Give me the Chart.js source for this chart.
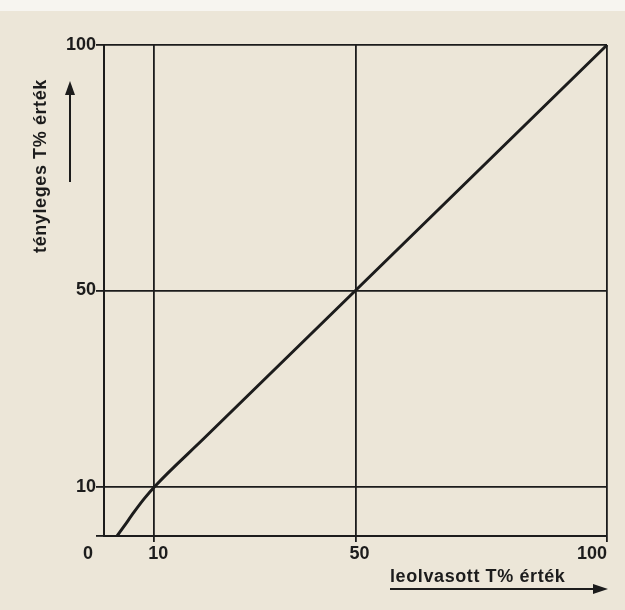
<!DOCTYPE html>
<html>
<head>
<meta charset="utf-8">
<script src="https://cdn.jsdelivr.net/npm/chart.js@4.4.1/dist/chart.umd.min.js"></script>
<style>
  html, body { margin: 0; padding: 0; background: #ece6d8; }
  #wrap { width: 625px; height: 610px; }
</style>
</head>
<body>
<div id="wrap"><canvas id="chart" width="625" height="610"></canvas></div>
<script>
// read-off value (x) vs true value (y), both in T%
var readValues = [2.6, 4, 6, 8, 10, 20, 50, 100];
var trueValues = [0, 2, 4.9, 7.6, 10, 20, 50, 100];

var xTicks = [0, 10, 50, 100];
var yTicks = [0, 10, 50, 100];
var xTitle = 'leolvasott T% érték';
var yTitle = 'tényleges T% érték';

var ink = '#1c1c1c';
var fontFamily = "'Liberation Sans', Arial, sans-serif";

var points = readValues.map(function(v, i) {
    return { x: v, y: trueValues[i] };
});

function arrowHead(ctx, x, y, dir) {
    // dir: 'up' or 'right'
    ctx.beginPath();
    if (dir === 'up') {
        ctx.moveTo(x, y);
        ctx.lineTo(x - 5, y + 14);
        ctx.lineTo(x + 5, y + 14);
    } else {
        ctx.moveTo(x, y);
        ctx.lineTo(x - 15, y - 5);
        ctx.lineTo(x - 15, y + 5);
    }
    ctx.closePath();
    ctx.fill();
}

var paperPlugin = {
    id: 'paper',
    beforeDraw: function(chart) {
        var ctx = chart.ctx;
        ctx.save();
        ctx.fillStyle = '#ece6d8';
        ctx.fillRect(0, 0, chart.width, chart.height);
        ctx.fillStyle = '#f7f5f0';
        ctx.fillRect(0, 0, chart.width, 11);
        ctx.restore();
    }
};

var labelsPlugin = {
    id: 'labels',
    afterDraw: function(chart) {
        var ctx = chart.ctx;
        var xs = chart.scales.x;
        var area = chart.chartArea;
        ctx.save();
        ctx.fillStyle = ink;
        ctx.strokeStyle = ink;
        ctx.font = 'bold 18px ' + fontFamily;
        ctx.textBaseline = 'middle';

        // x tick labels
        xTicks.forEach(function(v) {
            var px = xs.getPixelForValue(v);
            if (v === 0) {
                ctx.textAlign = 'center';
                ctx.fillText(String(v), px - 16, area.bottom + 18);
            } else if (v === 100) {
                ctx.textAlign = 'right';
                ctx.fillText(String(v), px, area.bottom + 18);
            } else {
                ctx.textAlign = 'center';
                ctx.fillText(String(v), px + 4, area.bottom + 18);
            }
        });

        // x title with arrow
        ctx.font = 'bold 18px ' + fontFamily;
        ctx.letterSpacing = '0.6px';
        ctx.textAlign = 'left';
        ctx.fillText(xTitle, 390, 577);
        ctx.lineWidth = 2;
        ctx.beginPath();
        ctx.moveTo(390, 589);
        ctx.lineTo(596, 589);
        ctx.stroke();
        arrowHead(ctx, 608, 589, 'right');

        // y title with arrow
        ctx.save();
        ctx.translate(41, 166);
        ctx.rotate(-Math.PI / 2);
        ctx.textAlign = 'center';
        ctx.fillText(yTitle, 0, 0);
        ctx.restore();
        ctx.beginPath();
        ctx.moveTo(70, 182);
        ctx.lineTo(70, 92);
        ctx.stroke();
        arrowHead(ctx, 70, 81, 'up');

        ctx.restore();
    }
};

new Chart(document.getElementById('chart'), {
    type: 'scatter',
    data: {
        datasets: [{
            data: points,
            showLine: true,
            borderColor: ink,
            borderWidth: 3,
            pointRadius: 0,
            cubicInterpolationMode: 'monotone',
            clip: false
        }]
    },
    options: {
        responsive: false,
        animation: false,
        layout: { padding: { top: 45, right: 18, left: 0, bottom: 0 } },
        plugins: {
            legend: { display: false },
            tooltip: { enabled: false }
        },
        scales: {
            x: {
                type: 'linear',
                min: 0,
                max: 100,
                afterBuildTicks: function(scale) {
                    scale.ticks = xTicks.map(function(v) { return { value: v }; });
                },
                afterFit: function(scale) { scale.height = 74; },
                ticks: { display: false },
                grid: {
                    color: ink,
                    lineWidth: 1.8,
                    tickLength: 6,
                    tickColor: function(c) {
                        return c.tick && c.tick.value === 0 ? 'rgba(0,0,0,0)' : ink;
                    }
                },
                border: { display: true, color: ink, width: 2 }
            },
            y: {
                type: 'linear',
                min: 0,
                max: 100,
                afterBuildTicks: function(scale) {
                    scale.ticks = yTicks.map(function(v) { return { value: v }; });
                },
                afterFit: function(scale) { scale.width = 104; },
                ticks: {
                    color: ink,
                    padding: 0,
                    font: { family: fontFamily, size: 18, weight: 'bold' },
                    callback: function(v) { return v === 0 ? '' : v; }
                },
                grid: {
                    color: ink,
                    lineWidth: 1.8,
                    tickLength: 8
                },
                border: { display: true, color: ink, width: 2 }
            }
        }
    },
    plugins: [paperPlugin, labelsPlugin]
});
</script>
</body>
</html>
